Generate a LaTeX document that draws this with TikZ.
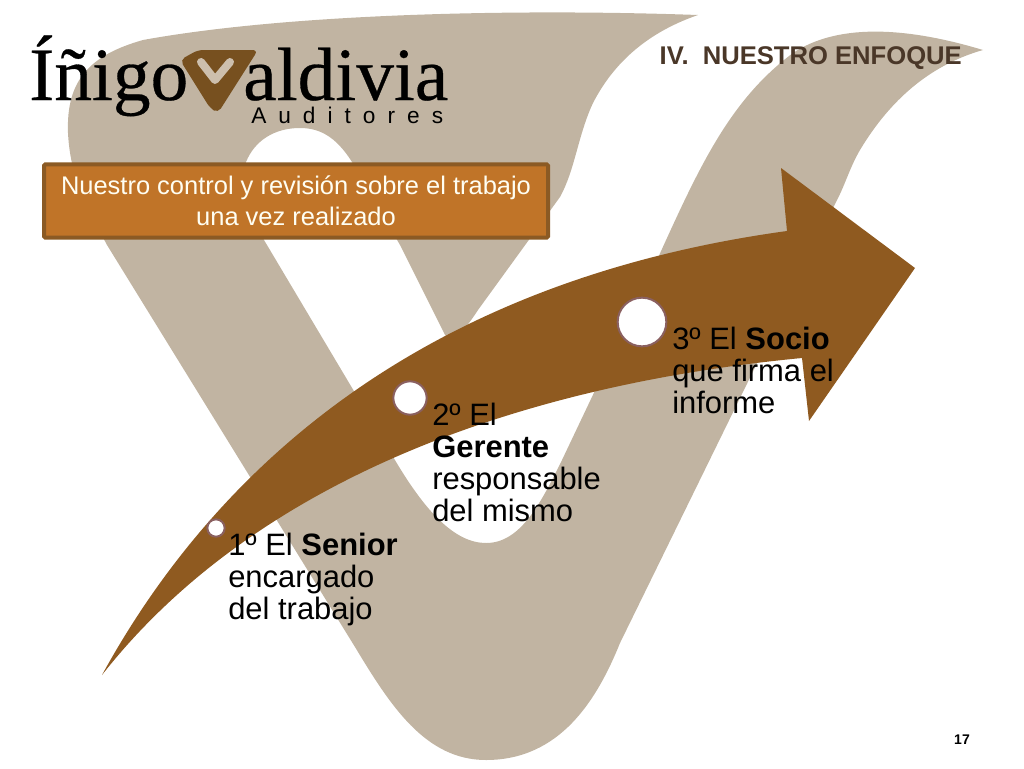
\documentclass[tikz,border=0pt]{standalone}
\usepackage{fontspec}
\setmainfont{Liberation Sans}
\newfontfamily\logofont[FakeBold=0.4]{Liberation Serif}
\definecolor{tan}{HTML}{C1B4A2}
\definecolor{arrowbrown}{HTML}{8F5A20}
\definecolor{logobrown}{HTML}{77501F}
\definecolor{logotan}{HTML}{CDBFAD}
\definecolor{boxfill}{HTML}{C07428}
\definecolor{boxline}{HTML}{8B5A24}
\definecolor{ringc}{HTML}{8A6060}
\definecolor{headc}{HTML}{4A3728}
\tikzset{
  stepdot/.style={circle,fill=white,draw=ringc,line width=1.5pt,inner sep=0pt},
  steptext/.style={anchor=north west,inner sep=0pt,align=left,text=black,font=\fontsize{23.2pt}{24pt}\selectfont},
}
\begin{document}
\begin{tikzpicture}[x=0.75pt,y=-0.75pt]
\useasboundingbox (0,0) rectangle (1024,768);
% background V
\fill[tan] (68,133) .. controls (66,80) and (90,55) .. (143,40)
  .. controls (280,15) and (500,8) .. (698,15)
  .. controls (640,35) and (610,70) .. (593,103)
  .. controls (578,135) and (575,170) .. (560,197)
  -- (478,310) .. controls (465,330) and (452,345) .. (445,335)
  -- (400,245) .. controls (380,210) and (365,185) .. (352,162)
  .. controls (335,135) and (318,128) .. (300,128)
  .. controls (275,128) and (255,140) .. (246,162)
  .. controls (240,180) and (250,215) .. (264,240)
  -- (392,455) .. controls (425,512) and (455,543) .. (486,543)
  .. controls (520,543) and (540,505) .. (562,460)
  -- (657,260) .. controls (700,165) and (730,100) .. (793,53)
  .. controls (835,25) and (900,25) .. (983,50)
  .. controls (930,65) and (890,100) .. (860,150)
  .. controls (850,167) and (845,185) .. (837,200)
  -- (620,643) .. controls (597,700) and (560,760) .. (486,760)
  .. controls (425,760) and (390,705) .. (355,647)
  -- (107,245) .. controls (80,195) and (70,170) .. (68,133) -- cycle;
% arrow
\fill[arrowbrown] (102,675) .. controls (220,460) and (430,280) .. (787,231)
  -- (781,168) -- (915,268) -- (809,421) -- (802,358)
  .. controls (520,385) and (255,480) .. (102,675) -- cycle;
\node[stepdot,minimum size=36.5pt] (c3) at (642,322) {};
\node[stepdot,minimum size=25pt] (c2) at (410,398) {};
\node[stepdot,minimum size=13pt] (c1) at (216,528) {};
\node[steptext] (t1) at (228,533) {1º El \textbf{Senior}\\encargado\\del trabajo};
\node[steptext] (t2) at (432,403) {2º El\\\textbf{Gerente}\\responsable\\del mismo};
\node[steptext] (t3) at (672,327) {3º El \textbf{Socio}\\que firma el\\informe};
% title box
\node[draw=boxline,fill=boxfill,line width=3pt,rounded corners=1pt,minimum width=378pt,minimum height=55pt,inner sep=0pt,align=center,text=white!95!yellow,font=\fontsize{19.1pt}{23.2pt}\selectfont] (box) at (296,201) {Nuestro control y revisión sobre el trabajo\\una vez realizado};
% heading and page number
\node[anchor=base east,inner sep=0pt,text=headc,font=\fontsize{19.2pt}{22pt}\selectfont\bfseries] (head) at (962,64) {IV.\ \ NUESTRO ENFOQUE};
\node[anchor=base,inner sep=0pt,text=black,font=\fontsize{10.5pt}{12pt}\selectfont\bfseries] (num) at (962,744) {17};
% logo
\fill[logobrown,rounded corners=4pt] (180,60) -- (198,50) -- (258,50) -- (218,113) -- (210,108) -- cycle;
\draw[logotan,line width=6pt,line cap=round,line join=round] (201,62) -- (215,80) -- (230,62);
\fill[logobrown] (208,50) -- (230,50) -- (218,66) -- cycle;
\node[anchor=base west,inner sep=0pt,font=\logofont\fontsize{56.5pt}{60pt}\selectfont] (logoa) at (29,100) {Íñigo};
\node[anchor=base west,inner sep=0pt,font=\logofont\fontsize{56.5pt}{60pt}\selectfont] (logob) at (243,100) {aldivia};
\node[anchor=base west,inner sep=0pt,font=\fontsize{17pt}{18pt}\selectfont\addfontfeature{LetterSpace=53}] (logoc) at (251,123.5) {Auditores};
\end{tikzpicture}
\end{document}
